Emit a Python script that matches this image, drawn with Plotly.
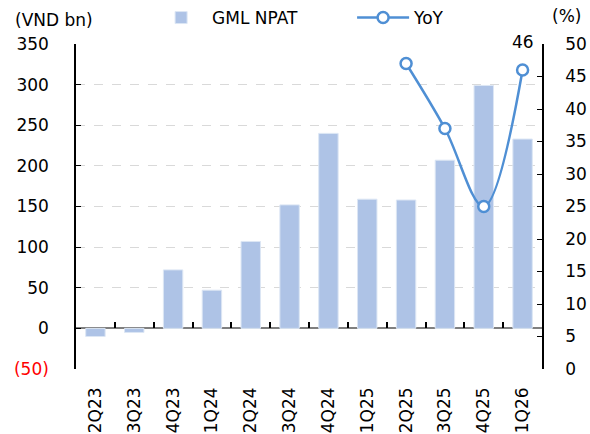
import plotly.graph_objects as go

quarters = ["2Q23", "3Q23", "4Q23", "1Q24", "2Q24", "3Q24", "4Q24", "1Q25", "2Q25", "3Q25", "4Q25", "1Q26"]
npat = [-10, -5, 72, 47, 107, 152, 240, 159, 158, 207, 299, 233]
yoy_quarters = ["2Q25", "3Q25", "4Q25", "1Q26"]
yoy = [47, 37, 25, 46]
left_ticks = [-50, 0, 50, 100, 150, 200, 250, 300, 350]
left_ticktext = ['<span style="color:#FF0000">(50)</span>', "0", "50", "100", "150", "200", "250", "300", "350"]

FONT = "DejaVu Sans"
BAR = "#AEC3E6"
LINE = "#4F8FD4"

fig = go.Figure()
fig.add_trace(go.Bar(
    x=quarters, y=npat, name="GML NPAT",
    marker=dict(color=BAR, line=dict(color="#DCE6F4", width=1)),
    width=0.5, yaxis="y",
))
fig.add_trace(go.Scatter(
    x=yoy_quarters, y=yoy, name="YoY", yaxis="y2",
    mode="lines+markers",
    line=dict(color=LINE, width=2.5, shape="spline", smoothing=1.0),
    marker=dict(symbol="circle", size=11, color="white", line=dict(color=LINE, width=2.5)),
))

fig.add_annotation(x=yoy_quarters[-1], y=yoy[-1], xref="x", yref="y2", text=str(yoy[-1]),
                   showarrow=False, yshift=28, font=dict(family=FONT, size=17, color="#000"))
fig.add_annotation(x=-63 / 466, y=1.074, xref="paper", yref="paper", text="(VND bn)",
                   showarrow=False, xanchor="left", yanchor="middle", font=dict(family=FONT, size=17, color="#000"))
fig.add_annotation(x=1 + 41 / 466, y=1.086, xref="paper", yref="paper", text="(%)",
                   showarrow=False, xanchor="right", yanchor="middle", font=dict(family=FONT, size=17, color="#000"))

fig.update_layout(
    width=590, height=434,
    margin=dict(l=76, r=48, t=44, b=65, autoexpand=False),
    paper_bgcolor="white", plot_bgcolor="white",
    font=dict(family=FONT, size=17, color="#000"),
    showlegend=True,
    legend=dict(orientation="h", x=0.159, xanchor="left", y=1.08, yanchor="middle",
                font=dict(family=FONT, size=17), itemwidth=52, entrywidth=135, entrywidthmode="pixels",
                bgcolor="rgba(0,0,0,0)"),
    bargap=0.5,
    xaxis=dict(type="category", categoryarray=quarters, range=[-0.5, len(quarters) - 0.5],
               showline=False, ticks="", tickangle=-90, showgrid=False, zeroline=False,
               ticklabelstandoff=14),
    xaxis2=dict(type="linear", overlaying="x", anchor="free", position=0.125,
                range=[-0.5, len(quarters) - 0.5],
                tickmode="array", tickvals=[i + 0.5 for i in range(len(quarters) - 1)],
                ticks="inside", ticklen=6, tickwidth=1.5, tickcolor="#000",
                showticklabels=False, showline=False, showgrid=False, zeroline=False),
    yaxis=dict(range=[-50, 350], tickmode="array", tickvals=left_ticks, ticktext=left_ticktext,
               ticks="inside", ticklen=5, tickcolor="#000", showline=True, linecolor="#000", linewidth=1.5,
               showgrid=True, gridcolor="#D9D9D9", griddash="dash", gridwidth=1,
               zeroline=True, zerolinecolor="#7F7F7F", zerolinewidth=2, ticklabelstandoff=22),
    yaxis2=dict(range=[0, 50], dtick=5, overlaying="y", side="right",
                ticks="inside", ticklen=5, tickcolor="#000", showline=True, linecolor="#000", linewidth=1.5,
                showgrid=False, zeroline=False, ticklabelstandoff=18),
)
fig.add_trace(go.Scatter(x=[0], y=[0], xaxis="x2", yaxis="y", mode="markers",
                         marker=dict(opacity=0), showlegend=False, hoverinfo="skip"))

fig.write_html("out.html", config={"displayModeBar": False},
               post_script="document.body.style.margin='0';document.body.style.overflow='hidden';")
